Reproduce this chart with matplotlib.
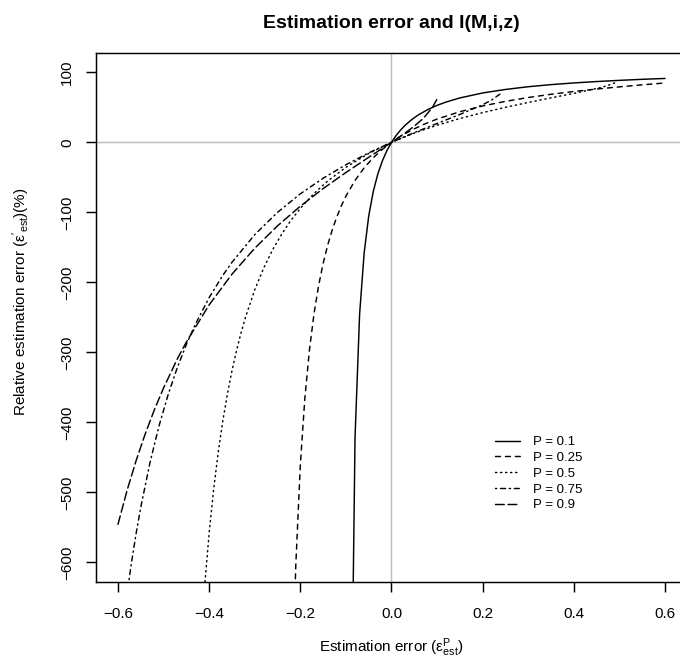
import matplotlib
matplotlib.use("Agg")
import matplotlib.pyplot as plt

plt.rcParams['font.family'] = ['Liberation Sans', 'DejaVu Sans']
plt.rcParams['mathtext.fontset'] = 'custom'
plt.rcParams['mathtext.rm'] = 'Liberation Sans'
plt.rcParams['mathtext.it'] = 'Liberation Sans:italic'
plt.rcParams['mathtext.bf'] = 'Liberation Sans:bold'
plt.rcParams['mathtext.default'] = 'regular'

# values
labels = ["P = 0.1", "P = 0.25", "P = 0.5", "P = 0.75", "P = 0.9"]

eps_p01 = [-0.09, -0.08, -0.07, -0.06, -0.05, -0.04, -0.03, -0.02, -0.01, 0.0,
           0.01, 0.02, 0.03, 0.04, 0.05, 0.06, 0.08, 0.10, 0.12, 0.15, 0.20,
           0.25, 0.30, 0.35, 0.40, 0.45, 0.50, 0.55, 0.60]
rel_p01 = [-948.4, -421.5, -245.9, -158.1, -105.4, -70.3, -45.2, -26.4, -11.7, 0.0,
           9.6, 17.6, 24.3, 30.1, 35.2, 39.6, 46.9, 52.8, 57.6, 63.4, 70.5,
           75.5, 79.4, 82.4, 84.8, 86.8, 88.5, 90.0, 91.2]

eps_p025 = [-0.22, -0.21, -0.20, -0.19, -0.18, -0.17, -0.16, -0.15, -0.14, -0.13,
            -0.12, -0.11, -0.10, -0.08, -0.06, -0.04, -0.02, 0.0, 0.01, 0.02, 0.03,
            0.05, 0.07, 0.10, 0.15, 0.20, 0.25, 0.30, 0.35, 0.40, 0.45, 0.50,
            0.55, 0.60]
rel_p025 = [-844.5, -604.7, -460.9, -364.9, -296.4, -245.0, -205.0, -173.0, -146.9, -125.0,
            -106.6, -90.7, -77.0, -54.4, -36.5, -22.0, -10.1, 0.0, 4.5, 8.6, 12.4,
            19.3, 25.4, 33.2, 43.7, 51.9, 58.5, 64.0, 68.6, 72.6, 76.1, 79.2,
            82.1, 84.8]

eps_p05 = [-0.41, -0.40, -0.39, -0.38, -0.37, -0.36, -0.35, -0.34, -0.33, -0.32,
           -0.30, -0.28, -0.26, -0.24, -0.22, -0.20, -0.17, -0.14, -0.10, -0.05,
           0.0, 0.05, 0.10, 0.15, 0.20, 0.25, 0.30, 0.35, 0.40, 0.45, 0.47, 0.49]
rel_p05 = [-635.0, -557.9, -494.8, -442.2, -397.7, -359.6, -326.5, -297.6, -272.0, -249.3,
           -210.6, -179.0, -152.6, -130.2, -111.0, -94.3, -73.1, -55.3, -35.7, -15.9,
           0.0, 13.2, 24.4, 34.0, 42.4, 50.0, 56.9, 63.5, 69.9, 76.9, 80.2, 84.9]

eps_p075 = [-0.58, -0.57, -0.56, -0.55, -0.53, -0.51, -0.49, -0.47, -0.45, -0.43,
            -0.40, -0.37, -0.35, -0.30, -0.25, -0.20, -0.15, -0.10, -0.05, 0.0,
            0.05, 0.10, 0.15, 0.20, 0.22, 0.24]
rel_p075 = [-644.0, -598.6, -557.9, -521.3, -458.0, -405.1, -360.4, -322.0, -288.7, -259.5,
            -221.8, -190.0, -171.4, -131.9, -100.0, -73.6, -51.3, -32.0, -15.1, 0.0,
            13.9, 26.9, 39.8, 53.7, 60.5, 69.9]

eps_p09 = [-0.60, -0.58, -0.56, -0.54, -0.52, -0.50, -0.47, -0.45, -0.40, -0.35,
           -0.30, -0.25, -0.20, -0.15, -0.10, -0.05, 0.0, 0.03, 0.05, 0.07, 0.09, 0.10]
rel_p09 = [-545.6, -497.0, -454.2, -416.0, -381.7, -350.8, -309.6, -285.2, -232.2, -188.4,
           -151.3, -119.3, -91.2, -66.1, -43.1, -21.4, 0.0, 13.4, 23.1, 34.3, 50.0, 62.0]

x_ticks = [-0.6, -0.4, -0.2, 0.0, 0.2, 0.4, 0.6]
x_tick_labels = ["\u22120.6", "\u22120.4", "\u22120.2", "0.0", "0.2", "0.4", "0.6"]
y_ticks = [-600, -500, -400, -300, -200, -100, 0, 100]
y_tick_labels = ["\u2212600", "\u2212500", "\u2212400", "\u2212300", "\u2212200", "\u2212100", "0", "100"]

# R style line types: solid, dashed, dotted, dotdash, longdash
line_styles = ['-', (0, (3.4, 3.4)), (0, (0.85, 2.6)), (0, (0.85, 2.6, 3.4, 2.6)), (0, (6, 2.6))]

series = [(eps_p01, rel_p01), (eps_p025, rel_p025), (eps_p05, rel_p05),
          (eps_p075, rel_p075), (eps_p09, rel_p09)]

W, H = 680, 667
LW = 1.05
fig = plt.figure(figsize=(W / 100, H / 100), dpi=100)
ax = fig.add_axes([96.1 / W, (H - 582) / H, (686.9 - 96.1) / W, (582 - 52.7) / H])

ax.axhline(0, color='#BEBEBE', lw=LW, zorder=1)
ax.axvline(0, color='#BEBEBE', lw=LW, zorder=1)

for (x, y), ls, lab in zip(series, line_styles, labels):
    ax.plot(x, y, color='black', lw=LW, linestyle=ls, label=lab,
            dash_capstyle='round', solid_capstyle='round', zorder=2)

ax.set_xlim(-0.648, 0.648)
ax.set_ylim(-628, 128)
ax.set_xticks(x_ticks)
ax.set_xticklabels(x_tick_labels)
ax.set_yticks(y_ticks)
ax.set_yticklabels(y_tick_labels, rotation=90, va='center')

ax.tick_params(direction='out', length=7.3, width=LW, labelsize=11, colors='black')
ax.tick_params(axis='x', pad=11)
ax.tick_params(axis='y', pad=8.5)
for sp in ax.spines.values():
    sp.set_linewidth(LW)

ax.legend(loc='upper left', bbox_to_anchor=(495 / W, (H - 436) / H),
          bbox_transform=fig.transFigure, frameon=False, fontsize=9.5,
          handlelength=1.9, handletextpad=0.95, labelspacing=0.27,
          borderpad=0, borderaxespad=0)

fig.text(391.5 / W, 1 - 24 / H, "Estimation error and I(M,i,z)",
         ha='center', va='center', fontsize=14, fontweight='bold')
fig.text(391.5 / W, 1 - 648 / H, r"Estimation error ($\varepsilon^{P}_{est}$)",
         ha='center', va='center', fontsize=11)
fig.text(21 / W, 1 - 302 / H, r"Relative estimation error ($\varepsilon'_{est}$)(%)",
         ha='center', va='center', rotation=90, fontsize=11)

fig.savefig("out.png", dpi=100)
